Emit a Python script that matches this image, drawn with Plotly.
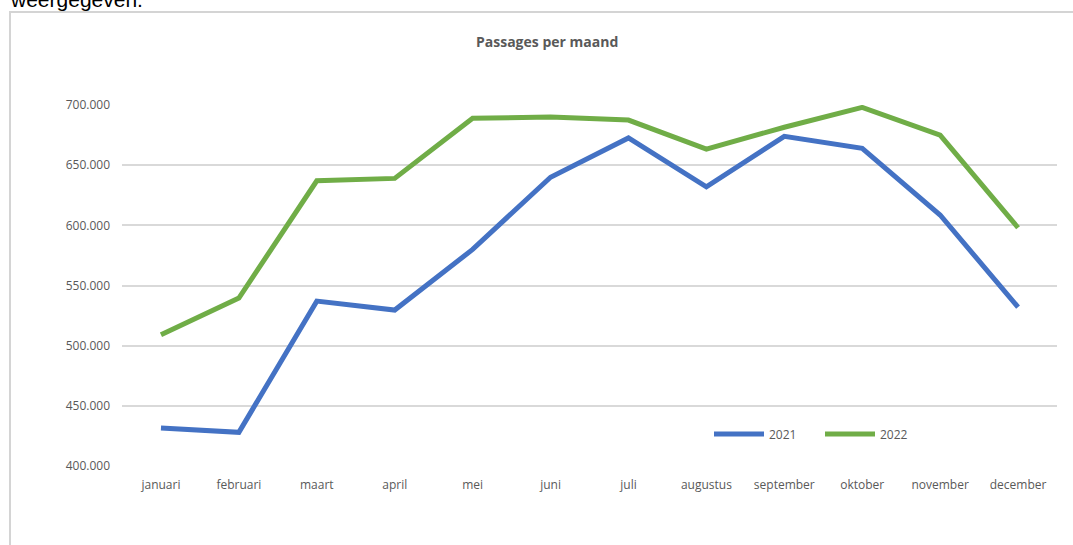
import plotly.graph_objects as go

months = ["januari", "februari", "maart", "april", "mei", "juni", "juli",
          "augustus", "september", "oktober", "november", "december"]
y2021 = [431600, 428000, 537000, 529600, 580000, 640000, 672600,
         632000, 674000, 664000, 608600, 532000]
y2022 = [509000, 539600, 637000, 639000, 689000, 690000, 687500,
         663400, 681500, 698000, 675000, 598000]
y_ticks = [400000, 450000, 500000, 550000, 600000, 650000, 700000]

W, H = 1073, 545
L, R, T, B = 122, 16, 105, 79
pw, ph = W - L - R, H - T - B

def px(x):
    return (x - L) / pw

def py(y):
    return (H - B - y) / ph

FONT = "Open Sans"
GRAY = "#595959"
FS = 12

fig = go.Figure()
fig.add_trace(go.Scatter(x=months, y=y2021, name="2021", mode="lines",
                         line=dict(color="#4472C4", width=5)))
fig.add_trace(go.Scatter(x=months, y=y2022, name="2022", mode="lines",
                         line=dict(color="#70AD47", width=5)))

fig.update_layout(
    width=W, height=H,
    margin=dict(l=L, r=R, t=T, b=B),
    paper_bgcolor="white", plot_bgcolor="white",
    separators=",.",
    font=dict(family=FONT, size=FS, color=GRAY),
    showlegend=True,
    legend=dict(orientation="h", x=px(709), y=py(434), xanchor="left", yanchor="middle",
                bgcolor="rgba(0,0,0,0)", font=dict(family=FONT, size=FS, color=GRAY),
                itemwidth=50, entrywidth=46),
    xaxis=dict(range=[-0.5, 11.5], showgrid=False, showline=False, zeroline=False, ticks="",
               ticklabelstandoff=10, tickfont=dict(family=FONT, size=FS, color=GRAY)),
    yaxis=dict(range=[400000, 700000], tickvals=y_ticks, tickformat=",d",
               showgrid=True, gridcolor="#d9d9d9", gridwidth=1.5,
               zeroline=False, showline=False, ticks="",
               ticklabelstandoff=11, tickfont=dict(family=FONT, size=FS, color=GRAY)),
    shapes=[dict(type="rect", xref="paper", yref="paper",
                 x0=px(10), x1=px(1090), y0=py(560), y1=py(12),
                 line=dict(color="#d4d4d4", width=2), fillcolor="rgba(0,0,0,0)",
                 layer="below")],
    annotations=[
        dict(text="<b>Passages per maand</b>", xref="paper", yref="paper",
             x=px(547), y=py(42), xanchor="center", yanchor="middle", showarrow=False,
             font=dict(family=FONT, size=14, color=GRAY)),
        dict(text="weergegeven.", xref="paper", yref="paper",
             x=px(8), y=py(13), xanchor="left", yanchor="bottom", showarrow=False,
             font=dict(family="Liberation Sans", size=21, color="black")),
    ],
)

fig.write_html("out.html", config={"displayModeBar": False},
               post_script="document.body.style.margin='0px';document.body.style.overflow='hidden';")
